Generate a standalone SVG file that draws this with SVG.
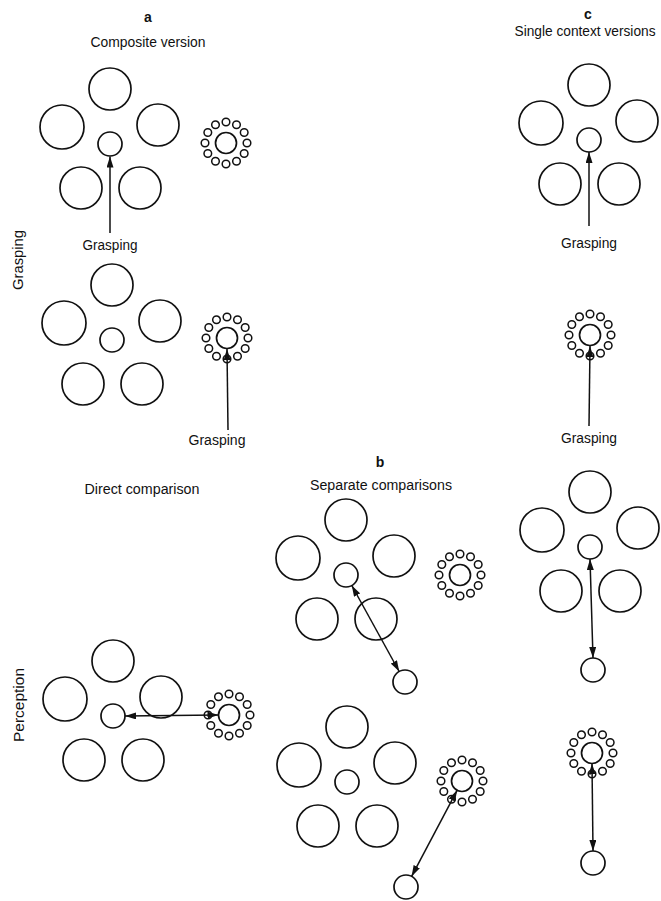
<svg xmlns="http://www.w3.org/2000/svg" xmlns:xlink="http://www.w3.org/1999/xlink" width="661" height="901" viewBox="0 0 661 901">
<style>
  .c { fill: none; stroke: #111; stroke-width: 1.7; }
  .s { fill: none; stroke: #111; stroke-width: 1.5; }
  .ln { fill: none; stroke: #111; stroke-width: 1.5; }
  text { font-family: "Liberation Sans", Arial, sans-serif; font-size: 15.5px; fill: #111; text-anchor: middle; }
  .hd { font-weight: bold; font-size: 14px; }
  .sm { font-size: 14px; }
</style>
<defs>
  <marker id="ah" viewBox="0 0 11 7" refX="11" refY="3.5" markerWidth="11" markerHeight="7" markerUnits="userSpaceOnUse" orient="auto-start-reverse">
    <path d="M0,0 L11,3.5 L0,7 z" fill="#111"/>
  </marker>
  <g id="cl">
    <circle class="c" cx="0" cy="-55" r="21"/>
    <circle class="c" cx="-48" cy="-17" r="22"/>
    <circle class="c" cx="48" cy="-19" r="21"/>
    <circle class="c" cx="-29" cy="44" r="21"/>
    <circle class="c" cx="30" cy="44" r="21"/>
    <circle class="c" cx="0" cy="0" r="12"/>
  </g>
  <g id="ring">
    <circle class="c" cx="0" cy="0" r="10.5"/>
    <circle class="s" cx="21" cy="0" r="3.8"/>
    <circle class="s" cx="18.19" cy="10.5" r="3.8"/>
    <circle class="s" cx="10.5" cy="18.19" r="3.8"/>
    <circle class="s" cx="0" cy="21" r="3.8"/>
    <circle class="s" cx="-10.5" cy="18.19" r="3.8"/>
    <circle class="s" cx="-18.19" cy="10.5" r="3.8"/>
    <circle class="s" cx="-21" cy="0" r="3.8"/>
    <circle class="s" cx="-18.19" cy="-10.5" r="3.8"/>
    <circle class="s" cx="-10.5" cy="-18.19" r="3.8"/>
    <circle class="s" cx="0" cy="-21" r="3.8"/>
    <circle class="s" cx="10.5" cy="-18.19" r="3.8"/>
    <circle class="s" cx="18.19" cy="-10.5" r="3.8"/>
  </g>
</defs>

<g id="labels">
  <text class="hd" x="148" y="22">a</text>
  <text x="148" y="47" textLength="115" lengthAdjust="spacingAndGlyphs">Composite version</text>
  <text class="hd" x="588" y="19">c</text>
  <text class="sm" x="585" y="36" textLength="141" lengthAdjust="spacingAndGlyphs">Single context versions</text>
  <text class="hd" x="380" y="467">b</text>
  <text x="381" y="490" textLength="142" lengthAdjust="spacingAndGlyphs">Separate comparisons</text>
  <text x="142" y="494" textLength="115" lengthAdjust="spacingAndGlyphs">Direct comparison</text>
  <text x="110" y="250" textLength="55" lengthAdjust="spacingAndGlyphs">Grasping</text>
  <text x="217" y="445" textLength="57" lengthAdjust="spacingAndGlyphs">Grasping</text>
  <text x="589" y="248" textLength="56" lengthAdjust="spacingAndGlyphs">Grasping</text>
  <text x="589" y="443" textLength="56" lengthAdjust="spacingAndGlyphs">Grasping</text>
  <text transform="translate(23,260) rotate(-90)" x="0" y="0" textLength="60" lengthAdjust="spacingAndGlyphs">Grasping</text>
  <text transform="translate(24,705) rotate(-90)" x="0" y="0" textLength="74" lengthAdjust="spacingAndGlyphs">Perception</text>
</g>

<g id="a-composite-cluster"><use xlink:href="#cl" href="#cl" x="110" y="144"/></g>
<g id="a-composite-ring"><use xlink:href="#ring" href="#ring" x="226" y="143"/></g>
<g id="a-grasp2-cluster"><use xlink:href="#cl" href="#cl" x="112" y="340"/></g>
<g id="a-grasp2-ring"><use xlink:href="#ring" href="#ring" x="227" y="338"/></g>
<g id="c-cluster-1"><use xlink:href="#cl" href="#cl" x="589" y="140"/></g>
<g id="c-ring-1"><use xlink:href="#ring" href="#ring" x="590" y="335"/></g>
<g id="p-cluster"><use xlink:href="#cl" href="#cl" x="113" y="716"/></g>
<g id="p-ring"><use xlink:href="#ring" href="#ring" x="229" y="715"/></g>
<g id="b-cluster-1"><use xlink:href="#cl" href="#cl" x="346" y="575"/></g>
<g id="b-ring-1"><use xlink:href="#ring" href="#ring" x="460" y="575"/></g>
<g id="b-target-1"><circle class="c" cx="405" cy="682" r="12"/></g>
<g id="b-cluster-2"><use xlink:href="#cl" href="#cl" x="347" y="782"/></g>
<g id="b-ring-2"><use xlink:href="#ring" href="#ring" x="462" y="781"/></g>
<g id="b-target-2"><circle class="c" cx="406" cy="887" r="12"/></g>
<g id="c-cluster-2"><use xlink:href="#cl" href="#cl" x="590" y="547"/></g>
<g id="c-target-1"><circle class="c" cx="593" cy="670" r="12"/></g>
<g id="c-ring-2"><use xlink:href="#ring" href="#ring" x="592" y="753"/></g>
<g id="c-target-2"><circle class="c" cx="593" cy="863" r="12"/></g>

<g id="connectors">
  <path class="ln" d="M110,233 L110,156.5" marker-end="url(#ah)"/>
  <path class="ln" d="M228,430 L227,349" marker-end="url(#ah)"/>
  <path class="ln" d="M589,226 L589,152" marker-end="url(#ah)"/>
  <path class="ln" d="M589,426 L590,346" marker-end="url(#ah)"/>
  <path class="ln" d="M125,716 L218.5,715" marker-start="url(#ah)" marker-end="url(#ah)"/>
  <path class="ln" d="M351.8,585.5 L399.2,671.5" marker-start="url(#ah)" marker-end="url(#ah)"/>
  <path class="ln" d="M457.1,790.3 L411.6,876.4" marker-start="url(#ah)" marker-end="url(#ah)"/>
  <path class="ln" d="M590,559 L593,658" marker-start="url(#ah)" marker-end="url(#ah)"/>
  <path class="ln" d="M592,763.5 L593,851" marker-start="url(#ah)" marker-end="url(#ah)"/>
</g>
</svg>
